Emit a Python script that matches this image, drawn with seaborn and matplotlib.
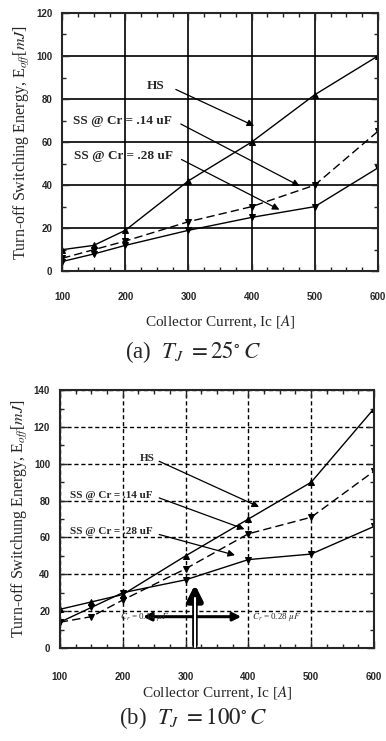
import numpy as np
import pandas as pd
import matplotlib
matplotlib.use("Agg")
import matplotlib.pyplot as plt
import seaborn as sns
from matplotlib.ticker import MultipleLocator

# collector current [A]
current = [100, 150, 200, 300, 400, 500, 600]

# (a) Tj = 25 C
hs_25 = [10, 12, 19, 42, 60, 82, 100]
ss14_25 = [6, 10, 14, 23, 30, 40, 65]
ss28_25 = [4.5, 8, 12, 19, 25, 30, 48]

# (b) Tj = 100 C
hs_100 = [21, 25, 29, 50, 70, 90, 130]
ss14_100 = [14, 17, 26, 43, 62, 71, 96]
ss28_100 = [14, 22, 30, 37, 48, 51, 66]

series_names = ["HS", "SS @ Cr = .14 uF", "SS @ Cr = .28 uF"]

sns.set_style("ticks")
plt.rcParams["font.family"] = ["Liberation Serif", "DejaVu Serif"]
plt.rcParams["mathtext.fontset"] = "stix"


def make_df(hs, ss14, ss28):
    df = pd.DataFrame({"Ic": current * 3,
                       "E": hs + ss14 + ss28,
                       "curve": [n for n in series_names for _ in current]})
    return df


def draw(ax, df, ymax, grid_style, xpad):
    styles = {"HS": ("-", "^"), series_names[1]: ((0, (6, 3)), "v"),
              series_names[2]: ("-", "v")}
    for name in series_names:
        sub = df[df["curve"] == name]
        ls, mk = styles[name]
        sns.lineplot(data=sub, x="Ic", y="E", ax=ax, color="black", lw=1.0,
                     linestyle=ls, marker=mk, markersize=5, markeredgecolor="black")
    ax.set_xlim(100, 600)
    ax.set_ylim(0, ymax)
    ax.xaxis.set_major_locator(MultipleLocator(100))
    ax.xaxis.set_minor_locator(MultipleLocator(25))
    ax.yaxis.set_major_locator(MultipleLocator(20))
    ax.yaxis.set_minor_locator(MultipleLocator(10))
    ax.tick_params(which="both", direction="in", top=True, right=True)
    ax.tick_params(which="major", length=5, width=1)
    ax.tick_params(which="minor", length=3, width=1)
    ax.tick_params(axis="x", pad=xpad)
    ax.tick_params(axis="y", pad=7)
    for lab in ax.get_xticklabels() + ax.get_yticklabels():
        lab.set_family(["Liberation Sans", "DejaVu Sans"])
        lab.set_fontsize(7)
        lab.set_fontweight("bold")
    ax.grid(True, which="major", color="black", **grid_style)
    for s in ax.spines.values():
        s.set_linewidth(1.5)
    ax.set_xlabel("Collector Current, Ic [$A$]", fontsize=11, labelpad=8)


fig = plt.figure(figsize=(3.86, 7.41), dpi=100)
arr = dict(arrowstyle="-|>", color="black", lw=0.9, mutation_scale=10)

# ---------- (a) ----------
ax1 = fig.add_axes([0.161, 0.634, 0.818, 0.3485])
draw(ax1, make_df(hs_25, ss14_25, ss28_25), 120,
     dict(linestyle="-", linewidth=1.2), 15)
ax1.set_ylabel("Turn-off Switching Energy, E$_{off}$[$mJ$]", fontsize=11.5, labelpad=3)
ann = dict(fontsize=9.5, fontweight="bold", va="center")
ax1.text(234, 86, "HS", **ann)
ax1.text(117, 70, "SS @ Cr = .14 uF", **ann)
ax1.text(119, 53.5, "SS @ Cr = .28 uF", **ann)
ax1.annotate("", xy=(408, 67), xytext=(276, 85), arrowprops=arr)
ax1.annotate("", xy=(480, 39), xytext=(284, 69), arrowprops=arr)
ax1.annotate("", xy=(448, 28), xytext=(285, 52.5), arrowprops=arr)
fig.text(0.5, 0.525, "(a)  $T_J\\ = 25^{\\circ}\\,C$", fontsize=16.5,
         ha="center", va="center")

# ---------- (b) ----------
ax2 = fig.add_axes([0.155, 0.1255, 0.814, 0.348])
draw(ax2, make_df(hs_100, ss14_100, ss28_100), 140,
     dict(linestyle=(0, (3, 2)), linewidth=1.0), 17)
ax2.set_ylabel("Turn-off Switchung Energy, E$_{off}$[$mJ$]", fontsize=11.5, labelpad=3)
ax2.xaxis.labelpad = 2
ann = dict(fontsize=8, fontweight="bold", va="center")
ax2.text(227, 103, "HS", **ann)
ax2.text(116, 83, "SS @ Cr = .14 uF", **ann)
ax2.text(116, 63, "SS @ Cr = .28 uF", **ann)
ax2.annotate("", xy=(421, 76), xytext=(254, 102), arrowprops=arr)
ax2.annotate("", xy=(398, 64), xytext=(254, 82), arrowprops=arr)
ax2.annotate("", xy=(383, 50), xytext=(254, 62), arrowprops=arr)
# current arrows
ax2.annotate("", xy=(393, 17), xytext=(228, 17),
             arrowprops=dict(arrowstyle="<|-|>", color="black", lw=2.2,
                             mutation_scale=12))
ax2.annotate("", xy=(315, 36), xytext=(315, 0),
             arrowprops=dict(arrowstyle="-|>", color="black", lw=4,
                             mutation_scale=22))
ax2.plot([315, 315], [0.5, 27], color="white", lw=1.5, zorder=5)
ax2.text(196, 17, "$C_r$ = 0.14 $\\mu F$", fontsize=6.5, va="center")
ax2.text(406, 17, "$C_r$ = 0.28 $\\mu F$", fontsize=6.5, va="center")
fig.text(0.5, 0.031, "(b)  $T_J\\ = 100^{\\circ}\\,C$", fontsize=16.5,
         ha="center", va="center")

fig.savefig("out.png", dpi=100)
